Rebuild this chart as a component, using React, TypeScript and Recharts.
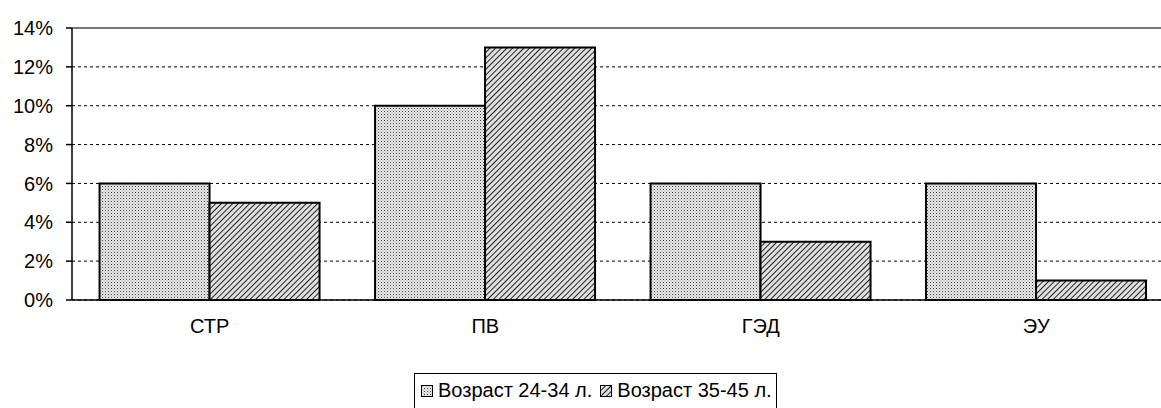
import {BarChart, Bar, XAxis, YAxis, CartesianGrid, Legend, ReferenceLine} from 'recharts'

const categories = ['СТР', 'ПВ', 'ГЭД', 'ЭУ']
const age2434 = [6, 10, 6, 6]
const age3545 = [5, 13, 3, 1]
const yTicks = [0, 2, 4, 6, 8, 10, 12, 14]
const seriesNames = ['Возраст 24-34 л.', 'Возраст 35-45 л.']
const fills = ['url(#dots)', 'url(#hatch)']

const data = categories.map((name, i) => ({
    name,
    pos: i + 0.5,
    a: age2434[i],
    b: age3545[i],
}))

const font = '"Liberation Sans", Arial, sans-serif'

const LegendBox = () => (
    <div
        style={{
            display: 'inline-flex',
            alignItems: 'center',
            border: '1px solid #000',
            padding: '5px 4px 8px 6px',
            fontFamily: font,
            fontSize: 20,
            lineHeight: '23px',
            color: '#000',
            background: '#fff',
            whiteSpace: 'nowrap',
        }}
    >
        {seriesNames.map((n, i) => (
            <span key={n} style={{display: 'inline-flex', alignItems: 'center', marginRight: i === 0 ? 8 : 0}}>
                <svg width={12} height={12} style={{marginRight: 5}}>
                    <rect x={0.5} y={0.5} width={11} height={11} fill={fills[i]} stroke="#000" strokeWidth={1} />
                </svg>
                {n}
            </span>
        ))}
    </div>
)

export default function App() {
    return (
        <div style={{position: 'fixed', left: 0, top: 0, width: 1161, height: 408, overflow: 'hidden', background: '#fff'}}>
            <BarChart
                width={1174}
                height={408}
                data={data}
                margin={{top: 28, right: 0, left: 0, bottom: 30}}
                barCategoryGap="10%"
                barGap={0}
            >
                <defs>
                    <pattern id="dots" width={3} height={3} patternUnits="userSpaceOnUse">
                        <rect width={3} height={3} fill="#e8e8e8" />
                        <rect x={0} y={0} width={1} height={1} fill="#444" />
                        <rect x={1.5} y={1.5} width={1} height={1} fill="#999" />
                    </pattern>
                    <pattern id="hatch" width={4} height={4} patternUnits="userSpaceOnUse" patternTransform="rotate(45)">
                        <rect width={4} height={4} fill="#e0e0e0" />
                        <line x1={0} y1={0} x2={0} y2={4} stroke="#222" strokeWidth={2} />
                    </pattern>
                </defs>
                <CartesianGrid vertical={false} stroke="#000" strokeDasharray="3 3" />
                <ReferenceLine y={14} stroke="#777" strokeWidth={2} strokeDasharray="" />
                <XAxis
                    dataKey="name"
                    tickLine={false}
                    axisLine={{stroke: '#000', strokeWidth: 1.5}}
                    tickMargin={13}
                    tick={{fontSize: 20, fill: '#000', fontFamily: font}}
                    height={40}
                />
                <XAxis
                    xAxisId="edges"
                    type="number"
                    dataKey="pos"
                    domain={[0, 4]}
                    ticks={[0, 1, 2, 3, 4]}
                    tick={false}
                    tickSize={6}
                    tickLine={{stroke: '#000', strokeWidth: 1.5}}
                    axisLine={false}
                    height={0}
                />
                <YAxis
                    domain={[0, 14]}
                    ticks={yTicks}
                    tickFormatter={(v) => `${v}%`}
                    width={72}
                    tickSize={6}
                    tickMargin={13}
                    interval={0}
                    axisLine={{stroke: '#000', strokeWidth: 1.5}}
                    tickLine={{stroke: '#000', strokeWidth: 1.5}}
                    tick={{fontSize: 20, fill: '#000', fontFamily: font}}
                />
                <Legend
                    verticalAlign="bottom"
                    content={() => <LegendBox />}
                    wrapperStyle={{position: 'absolute', left: 414, top: 373, width: 'auto'}}
                />
                <Bar dataKey="a" name={seriesNames[0]} fill={fills[0]} stroke="#000" strokeWidth={2} isAnimationActive={false} />
                <Bar dataKey="b" name={seriesNames[1]} fill={fills[1]} stroke="#000" strokeWidth={2} isAnimationActive={false} />
            </BarChart>
        </div>
    )
}
